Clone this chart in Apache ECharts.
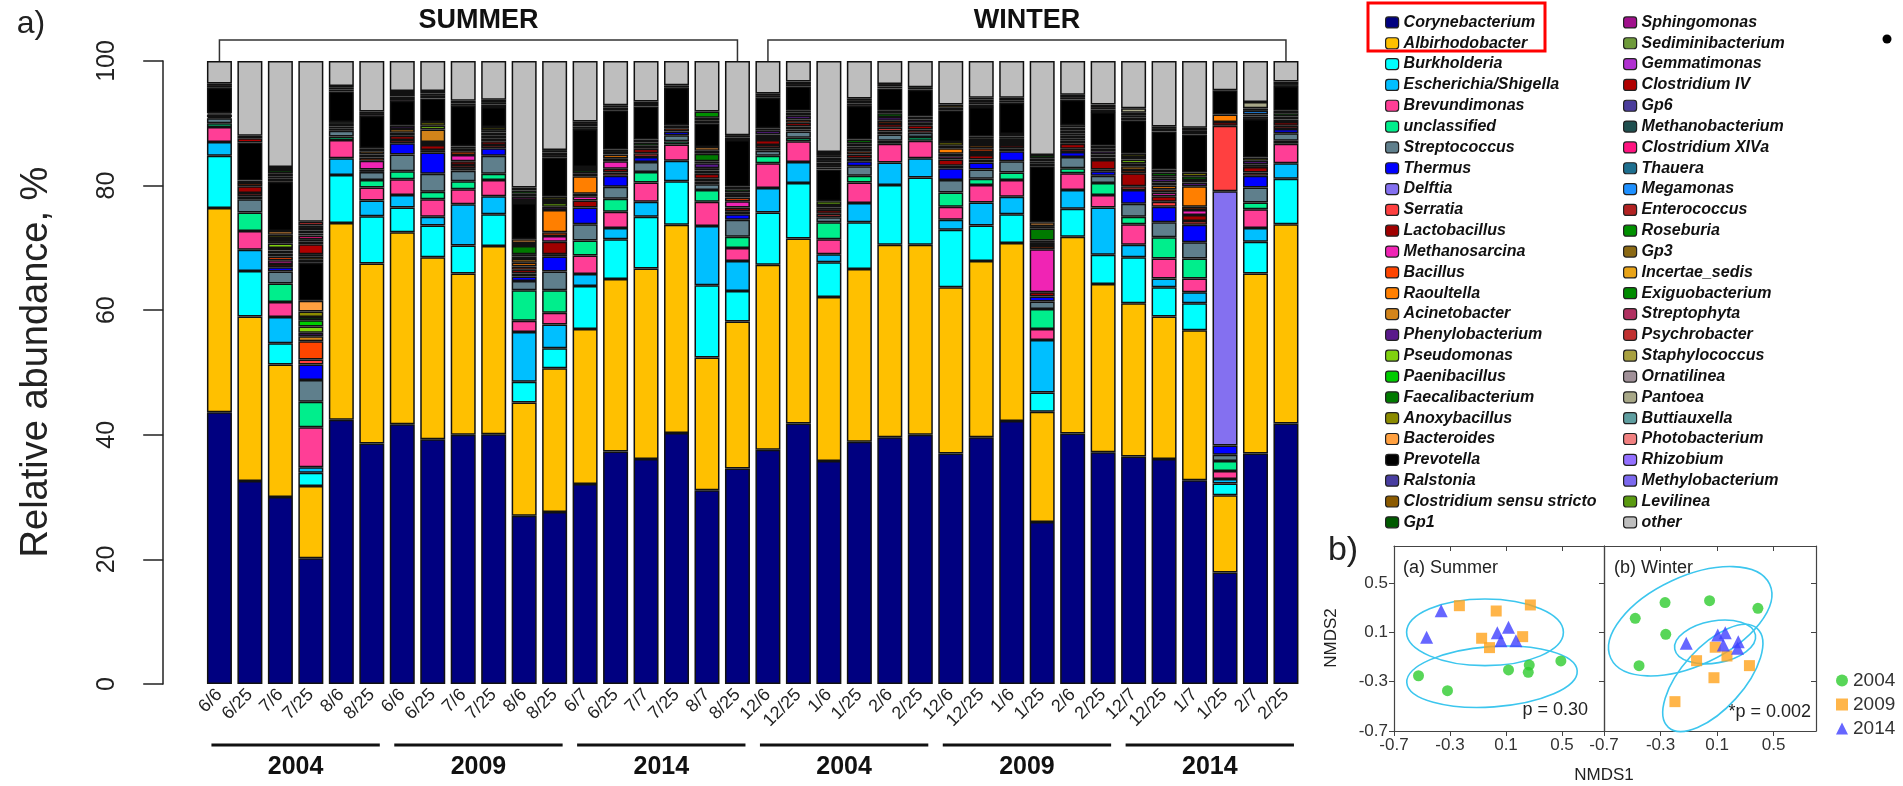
<!DOCTYPE html>
<html>
<head>
<meta charset="utf-8">
<script src="https://cdn.jsdelivr.net/npm/echarts@6/dist/echarts.min.js"></script>
<style>
  html, body { margin: 0; padding: 0; background: #fff; }
  #chart { width: 1903px; height: 786px; }
</style>
</head>
<body>
<div id="chart"></div>
<script>
// sample dates, 6 per season-year group
var sampleDates = [
  '6/6', '6/25', '7/6', '7/25', '8/6', '8/25',
  '6/6', '6/25', '7/6', '7/25', '8/6', '8/25',
  '6/7', '6/25', '7/7', '7/25', '8/7', '8/25',
  '12/6', '12/25', '1/6', '1/25', '2/6', '2/25',
  '12/6', '12/25', '1/6', '1/25', '2/6', '2/25',
  '12/7', '12/25', '1/7', '1/25', '2/7', '2/25'
];
var groupYears = ['2004', '2009', '2014', '2004', '2009', '2014'];
var seasons = ['SUMMER', 'WINTER'];

// relative abundance (%) per genus, one value per sample
var corynebacterium = [43.6, 32.6, 30.0, 20.2, 42.4, 38.6, 41.7, 39.3, 40.0, 40.1, 27.0, 27.6, 32.1, 37.3, 36.1, 40.3, 31.1, 34.6,
                       37.6, 41.8, 35.8, 38.9, 39.6, 40.0, 37.0, 39.6, 42.2, 26.0, 40.2, 37.2, 36.5, 36.1, 32.7, 17.9, 37.0, 41.8];
var albirhodobacter = [32.8, 26.4, 21.3, 11.6, 31.6, 28.9, 30.8, 29.2, 25.9, 30.2, 18.2, 23.1, 24.9, 27.7, 30.6, 33.4, 21.3, 23.6,
                       29.7, 29.7, 26.3, 27.7, 30.9, 30.5, 26.7, 28.3, 28.6, 17.7, 31.6, 27.0, 24.6, 22.9, 24.1, 12.4, 28.9, 32.0];
var burkholderia = [8.4, 7.3, 3.4, 2.1, 7.7, 7.6, 4.0, 5.1, 4.5, 5.1, 3.3, 3.2, 6.9, 6.4, 8.3, 7.0, 11.6, 4.9,
                    8.4, 8.9, 5.6, 7.5, 9.6, 10.8, 9.2, 5.7, 4.6, 3.1, 4.5, 4.7, 7.4, 4.7, 4.3, 1.9, 5.1, 7.3];
var escherichia = [2.2, 3.4, 4.2, 0.9, 2.7, 2.5, 2.0, 1.4, 6.6, 2.9, 8.0, 3.8, 1.9, 1.8, 2.4, 3.3, 9.5, 4.8,
                   3.9, 3.4, 1.3, 3.1, 3.6, 3.1, 1.6, 3.7, 2.8, 8.4, 3.0, 7.6, 2.0, 1.4, 1.8, 0.7, 2.2, 2.5];
var brevundimonas = [2.4, 3.0, 2.4, 6.4, 2.9, 2.1, 2.5, 2.8, 2.4, 2.6, 1.8, 1.9, 3.0, 2.6, 3.1, 2.6, 3.9, 2.1,
                     4.0, 3.3, 2.4, 3.3, 3.0, 2.8, 2.1, 2.8, 2.7, 1.8, 2.7, 2.0, 3.3, 3.2, 2.2, 1.3, 3.0, 3.1];
var unclassified = [0.6, 3.0, 3.0, 4.1, 0.6, 1.2, 1.3, 1.2, 1.3, 1.0, 4.9, 3.6, 2.4, 2.1, 1.7, 0.5, 1.9, 1.8,
                    1.2, 0.6, 2.7, 1.1, 0.5, 0.6, 2.3, 1.0, 1.2, 3.2, 0.8, 1.9, 1.2, 3.4, 3.2, 1.6, 1.1, 0.5];
var streptococcus = [0.8, 2.1, 1.9, 3.5, 0.9, 1.3, 2.7, 2.9, 1.7, 2.9, 1.5, 3.0, 2.6, 1.9, 1.6, 1.0, 0.9, 2.7,
                     0.8, 1.0, 0.8, 1.5, 1.0, 0.7, 2.0, 1.5, 1.8, 1.2, 1.8, 1.2, 2.1, 2.4, 2.6, 1.0, 2.4, 1.2];
var thermus = [0, 0.5, 0.7, 2.5, 0, 0.4, 1.8, 3.4, 0.4, 1.2, 0.7, 2.4, 2.7, 1.8, 0.8, 0.6, 0.4, 0.9,
               0.4, 0.3, 0, 0.8, 0.5, 0, 1.9, 1.1, 1.6, 0.8, 0.8, 0.7, 2.2, 2.5, 2.8, 1.5, 1.9, 0.7];
var delftia = [0, 0, 0, 0, 0, 0, 0, 0, 0, 0, 0, 0, 0, 0, 0, 0, 0, 0,
               0, 0, 0, 0, 0, 0, 0, 0, 0, 0, 0, 0, 0, 0, 0, 40.8, 0, 0];
var serratia = [0.2, 0.5, 0, 0.8, 0.4, 0, 0.5, 0.4, 0.5, 0.5, 0.5, 0.4, 0, 0.5, 0.6, 0, 0.5, 0.5,
                0.5, 0.5, 0.6, 0.5, 0.6, 0.5, 0.4, 0.5, 0.5, 0, 0.5, 0.3, 0.6, 0.8, 0.6, 10.5, 0.5, 0.5];
var lactobacillus = [0.4, 1.1, 0.5, 0, 0.3, 0, 0.7, 0.8, 0.6, 0.6, 0.6, 2.0, 1.1, 0.6, 0.7, 0, 0.8, 0.6,
                     0.8, 0.6, 0.6, 0.6, 0.6, 0.7, 1.0, 0.7, 0.5, 0.7, 0.8, 1.5, 2.1, 0.9, 1.0, 0.6, 0.9, 0.6];
var methanosarcina = [0.2, 0, 0.6, 0, 0.4, 1.4, 0, 0, 1.0, 0, 0, 0.9, 0.7, 1.2, 0, 0, 0, 1.0,
                      0, 0, 0, 0, 0, 0, 0.5, 0.5, 0, 6.9, 0, 0, 0, 0.6, 0.8, 0, 0, 0];
var bacillus = [0, 0.5, 0.6, 2.9, 0, 0.5, 0.5, 0.5, 0.6, 0.5, 0.5, 0.6, 0.4, 0.5, 0.5, 0.5, 0.5, 0.6,
                0.5, 0.5, 0, 0.5, 0.5, 0.4, 0.4, 0.6, 0.5, 0.5, 0.5, 0.4, 0.5, 0.5, 0.5, 0, 0.4, 0.4];
var raoultella = [0, 0, 0.5, 0, 0, 0.5, 0, 0, 0, 0, 0.6, 3.6, 2.8, 0.6, 0, 0, 0.4, 0,
                  0.4, 0, 0, 0.4, 0, 0, 0.9, 0.5, 0, 0, 0.4, 0, 0, 0.6, 3.3, 1.2, 0, 0];
var acinetobacter = [0, 0, 0.5, 0.8, 0, 0.5, 0.6, 2.0, 0, 0.4, 0.6, 0, 0, 0, 0, 0, 0, 0.4,
                     0, 0, 0.4, 0.4, 0, 0, 0.4, 0, 0, 0.5, 0.4, 0.5, 0.6, 0.5, 0, 0, 0, 0];
var phenylobacterium = [0, 0, 0.4, 0.6, 0, 0, 0.5, 0, 0.4, 0, 0.4, 0.5, 0.5, 0.4, 0, 0.5, 0.8, 0.4,
                        0.6, 0.6, 0.4, 0, 0.6, 0.5, 0, 0.5, 0.5, 0.4, 0.4, 0.5, 0.5, 0.6, 0.6, 0, 0.6, 0.5];
var pseudomonas = [0, 0, 0.7, 1.0, 0, 0, 0, 0.6, 0, 0, 0, 0.6, 0, 0, 0, 0, 0, 0,
                   0, 0, 0.6, 0, 0, 0, 0, 0, 0, 0, 0, 0, 0.6, 0, 0.4, 0, 0, 0];
var paenibacillus = [0, 0, 0.4, 1.0, 0, 0, 0, 0, 0, 0.5, 0.4, 0, 0, 0, 0, 0, 0.3, 0,
                     0, 0, 0, 0.5, 0, 0, 0, 0, 0, 0, 0.4, 0, 0.4, 0.4, 0, 0, 0, 0];
var faecalibacterium = [0, 0.4, 0.5, 0.5, 0.3, 0, 0, 0, 0.4, 0.4, 1.3, 0.5, 0.5, 0.4, 0.5, 0, 1.2, 0.5,
                        0.4, 0.5, 0, 0.6, 0.6, 0.5, 0, 0.5, 0.4, 1.9, 0.5, 0.5, 0, 0.6, 0.6, 0, 0, 0.5];
var anoxybacillus = [0, 0, 0.5, 0.9, 0, 0.5, 0, 0.6, 0, 0.5, 0.5, 0.5, 0.5, 0, 0.5, 0, 0.5, 0.4,
                     0, 0.3, 0, 0, 0.4, 0, 0.6, 0.4, 0.4, 0.4, 0.4, 0.4, 0.5, 0.5, 0.6, 0, 0.5, 0.4];
var bacteroides = [0, 0, 0.6, 1.7, 0, 0, 0, 0, 0, 0, 0.6, 0, 0, 0, 0, 0, 0.6, 0,
                   0, 0, 0, 0, 0, 0, 0, 0, 0, 0.6, 0, 0, 0, 0, 0, 0, 0, 0];
var prevotella = [4.1, 6.1, 7.9, 6.1, 4.9, 5.2, 4.0, 3.8, 6.5, 3.2, 5.8, 6.3, 6.1, 6.3, 5.3, 6.0, 3.8, 7.5,
                  4.9, 3.9, 5.1, 5.4, 3.6, 4.3, 5.1, 4.7, 5.0, 9.0, 4.1, 5.4, 5.4, 6.1, 6.1, 3.9, 6.2, 4.0];
var ralstonia = [0, 0, 0, 0.5, 0, 0, 0, 0, 0, 0, 0.5, 0, 0, 0, 0, 0, 0, 0,
                 0, 0, 0.3, 0, 0, 0, 0, 0, 0, 0, 0, 0, 0, 0, 0, 0, 0, 0];
var clostridiumSS = [0, 0, 0.5, 0.5, 0, 0, 0, 0, 0.4, 0, 0, 0, 0, 0, 0, 0, 0.5, 0,
                     0, 0, 0, 0, 0, 0, 0, 0.4, 0, 0, 0, 0, 0, 0, 0, 0, 0, 0];
var gp1 = [0.3, 0, 0, 0, 0.3, 0, 0, 0, 0, 0, 0, 0, 0.4, 0, 0, 0.4, 0, 0,
           0.3, 0, 0, 0, 0.3, 0, 0, 0, 0, 0, 0, 0, 0, 0, 0, 0, 0, 0.3];
var sphingomonas = [0, 0, 0.4, 0.4, 0, 0, 0.3, 0, 0, 0, 0.5, 0, 0.4, 0.4, 0, 0, 0, 0.4,
                    0, 0, 0.4, 0, 0, 0, 0, 0.4, 0, 0.4, 0, 0.4, 0, 0, 0.4, 0, 0, 0];
var clostridiumIV = [0.4, 0.7, 0.5, 1.6, 0.3, 0, 0.4, 0, 0.4, 0.4, 0, 0, 0.4, 0, 0, 0, 0.4, 0,
                     0.4, 0.4, 0, 0.4, 0.4, 0, 0.4, 0.4, 0, 0, 0.4, 0.4, 0.4, 0.4, 0, 0, 0.4, 0.4];
var gp6 = [0, 0, 0, 0.4, 0, 0, 0, 0, 0, 0, 0.5, 0, 0, 0, 0, 0, 0, 0,
           0, 0, 0, 0, 0, 0, 0, 0, 0, 0, 0, 0, 0, 0, 0.3, 0, 0, 0];
var methanobacterium = [0, 0, 0, 0.4, 0, 0, 0, 0, 0, 0, 0, 0, 0, 0, 0, 0, 0, 0,
                        0, 0, 0.4, 0, 0, 0, 0, 0, 0, 0, 0, 0, 0, 0, 0, 0, 0.3, 0];
var clostridiumXIVa = [0, 0, 0, 0.6, 0, 0.3, 0, 0, 0, 0, 0, 0, 0, 0, 0, 0, 0, 0,
                       0, 0, 0, 0, 0, 0, 0, 0, 0, 0, 0, 0, 0, 0, 0, 0, 0, 0];
var thauera = [0, 0, 0, 0.3, 0, 0, 0, 0, 0, 0, 0, 0, 0, 0, 0, 0, 0, 0,
               0, 0, 0, 0, 0, 0, 0, 0, 0, 0.4, 0, 0, 0, 0, 0, 0, 0, 0];
var megamonas = [0, 0, 0, 0, 0, 0, 0, 0, 0, 0, 0, 0, 0, 0, 0, 0, 0, 0,
                 0, 0, 0.4, 0, 0, 0, 0, 0, 0, 0.5, 0, 0, 0, 0, 0, 0, 0.6, 0];
var enterococcus = [0, 0, 0, 0.5, 0, 0, 0, 0, 0, 0, 0, 0.4, 0, 0, 0, 0, 0, 0,
                    0, 0, 0, 0, 0, 0, 0, 0.3, 0, 0, 0, 0, 0, 0, 0, 0, 0, 0];
var roseburia = [0, 0.4, 0.5, 0, 0.3, 0, 0, 0.4, 0, 0.4, 0.5, 0, 0, 0, 0.4, 0, 1.0, 0,
                 0, 0.4, 0.4, 0.4, 0, 0.4, 0, 0, 0.4, 0.5, 0.4, 0, 0.4, 0, 0, 0, 0.4, 0];
var gp3 = [0, 0, 0.5, 0.4, 0, 0.4, 0.4, 0.4, 0, 0.4, 0.5, 0.4, 0, 0, 0.4, 0, 0, 0.4,
           0, 0, 0.4, 0.4, 0, 0, 0.5, 0, 0.4, 0, 0, 0.4, 0.4, 0, 0.4, 0, 0, 0];
var exiguobacterium = [0, 0, 0, 0.4, 0, 0, 0, 0, 0, 0, 0, 0.4, 0, 0.4, 0, 0, 0, 0,
                       0, 0, 0, 0, 0, 0, 0, 0, 0, 0, 0, 0, 0, 0.4, 0, 0, 0, 0];
var psychrobacter = [0, 0, 0, 0.6, 0, 0, 0, 0, 0, 0, 0, 0, 0, 0, 0, 0, 0, 0,
                     0, 0, 0, 0, 0, 0, 0, 0, 0, 0, 0, 0, 0, 0, 0, 0, 0, 0];
var staphylococcus = [0, 0, 0, 0, 0, 0, 0.5, 0.4, 0, 0, 0, 0, 0, 0, 0, 0, 0, 0,
                      0, 0, 0, 0, 0, 0, 0, 0, 0, 0, 0, 0, 0, 0, 0, 0, 0, 0];
var ornatilinea = [0, 0, 0, 0, 0, 0, 0, 0, 0, 0, 0, 0, 0, 0, 0, 0, 0, 0,
                   0, 0, 0.5, 0, 0, 0, 0, 0, 0, 0, 0, 0, 0, 0, 0, 0, 0, 0];
var pantoea = [0, 0, 0, 0, 0, 0, 0, 0, 0, 0, 0, 0, 0, 0, 0, 0, 0, 0,
               0, 0, 0, 0, 0, 0, 0, 0, 0, 0, 0, 0, 0.7, 0, 0, 0, 1.0, 0];
var other = [3.6, 12.0, 17.0, 25.8, 4.0, 8.1, 4.8, 4.8, 6.4, 6.2, 20.3, 14.3, 9.7, 7.1, 6.5, 3.9, 8.1, 11.9,
             5.2, 3.3, 14.6, 6.0, 3.7, 4.2, 7.0, 5.9, 5.9, 15.1, 5.4, 7.0, 7.6, 10.5, 10.7, 4.7, 6.6, 3.3];

// legend columns, in stacking order (bottom to top)
var legendCol1 = ['Corynebacterium', 'Albirhodobacter', 'Burkholderia', 'Escherichia/Shigella', 'Brevundimonas',
  'unclassified', 'Streptococcus', 'Thermus', 'Delftia', 'Serratia', 'Lactobacillus', 'Methanosarcina', 'Bacillus',
  'Raoultella', 'Acinetobacter', 'Phenylobacterium', 'Pseudomonas', 'Paenibacillus', 'Faecalibacterium',
  'Anoxybacillus', 'Bacteroides', 'Prevotella', 'Ralstonia', 'Clostridium sensu stricto', 'Gp1'];
var legendCol2 = ['Sphingomonas', 'Sediminibacterium', 'Gemmatimonas', 'Clostridium IV', 'Gp6', 'Methanobacterium',
  'Clostridium XIVa', 'Thauera', 'Megamonas', 'Enterococcus', 'Roseburia', 'Gp3', 'Incertae_sedis', 'Exiguobacterium',
  'Streptophyta', 'Psychrobacter', 'Staphylococcus', 'Ornatilinea', 'Pantoea', 'Buttiauxella', 'Photobacterium',
  'Rhizobium', 'Methylobacterium', 'Levilinea', 'other'];
var genusColors = ['#000080', '#FFC000', '#00FFFF', '#00BFFF', '#FF3E96', '#00EE8C', '#5F7F8C', '#0000FF', '#8470F0',
  '#FF4040', '#A00000', '#F024B4', '#FF4500', '#FF7F00', '#D2841A', '#5A1A8B', '#80D010', '#00CC00', '#007A00',
  '#8B8B00', '#FFA040', '#000000', '#483DA0', '#8B5A00', '#005A00',
  '#A0108C', '#6E9A3A', '#B030D0', '#B00000', '#4B3D9B', '#1F4F4F', '#FF1480', '#1E6F8F', '#1E90FF', '#B22222',
  '#009000', '#8B6914', '#E8A317', '#008B00', '#B03060', '#C03030', '#A8A040', '#A09098', '#A8A888', '#5F9EA0',
  '#F08080', '#9370FF', '#7B68EE', '#5A9A10', '#BEBEBE'];

// NMDS ordination points [NMDS1, NMDS2]
var summer2004 = [[-0.525, -0.252], [-0.318, -0.373], [0.118, -0.205], [0.259, -0.224], [0.266, -0.165], [0.492, -0.132]];
var summer2009 = [[-0.233, 0.316], [0.03, 0.273], [0.274, 0.322], [-0.074, 0.052], [-0.018, -0.024], [0.219, 0.065]];
var summer2014 = [[-0.467, 0.06], [-0.363, 0.276], [0.038, 0.097], [0.118, 0.141], [0.064, 0.032], [0.171, 0.032]];
var winter2004 = [[-0.479, 0.214], [-0.268, 0.341], [0.047, 0.357], [0.389, 0.295], [-0.263, 0.084], [-0.452, -0.17]];
var winter2009 = [[0.087, -0.021], [-0.045, -0.13], [0.17, -0.092], [0.329, -0.17], [0.078, -0.268], [-0.198, -0.462]];
var winter2014 = [[-0.118, 0.011], [0.105, 0.079], [0.158, 0.097], [0.144, -0.003], [0.25, 0.024], [0.245, -0.03]];
// group ellipses: [centre x, centre y, half axis a, half axis b, tilt in degrees]
var summerEllipses = [[-0.05, 0.10, 0.56, 0.27, 0], [0.0, -0.26, 0.61, 0.245, 4]];
var winterEllipses = [[-0.09, 0.19, 0.62, 0.36, 25], [0.086, 0.022, 0.29, 0.17, 10], [0.07, -0.27, 0.47, 0.25, 48]];

var genusData = {
  'Corynebacterium': corynebacterium, 'Albirhodobacter': albirhodobacter, 'Burkholderia': burkholderia,
  'Escherichia/Shigella': escherichia, 'Brevundimonas': brevundimonas, 'unclassified': unclassified,
  'Streptococcus': streptococcus, 'Thermus': thermus, 'Delftia': delftia, 'Serratia': serratia,
  'Lactobacillus': lactobacillus, 'Methanosarcina': methanosarcina, 'Bacillus': bacillus, 'Raoultella': raoultella,
  'Acinetobacter': acinetobacter, 'Phenylobacterium': phenylobacterium, 'Pseudomonas': pseudomonas,
  'Paenibacillus': paenibacillus, 'Faecalibacterium': faecalibacterium, 'Anoxybacillus': anoxybacillus,
  'Bacteroides': bacteroides, 'Prevotella': prevotella, 'Ralstonia': ralstonia,
  'Clostridium sensu stricto': clostridiumSS, 'Gp1': gp1, 'Sphingomonas': sphingomonas,
  'Clostridium IV': clostridiumIV, 'Gp6': gp6, 'Methanobacterium': methanobacterium,
  'Clostridium XIVa': clostridiumXIVa, 'Thauera': thauera, 'Megamonas': megamonas, 'Enterococcus': enterococcus,
  'Roseburia': roseburia, 'Gp3': gp3, 'Exiguobacterium': exiguobacterium, 'Psychrobacter': psychrobacter,
  'Staphylococcus': staphylococcus, 'Ornatilinea': ornatilinea, 'Pantoea': pantoea, 'other': other
};

var FONT = '"Liberation Sans", Arial, sans-serif';
var chart = echarts.init(document.getElementById('chart'), null, { renderer: 'canvas' });

var sampleIds = sampleDates.map(function (d, i) { return 's' + i; });
var genusNames = legendCol1.concat(legendCol2);

var series = genusNames.map(function (name, i) {
  var vals = genusData[name] || [];
  return {
    name: name, type: 'bar', stack: 'abundance', xAxisIndex: 0, yAxisIndex: 0,
    barWidth: 25, silent: true,
    itemStyle: { color: genusColors[i], borderColor: '#111', borderWidth: 1.5 },
    data: vals.map(function (v) { return v > 0 ? v : '-'; })
  };
});

function scatter(name, data, axis, symbol, size, color) {
  return {
    name: name, type: 'scatter', xAxisIndex: axis, yAxisIndex: axis, symbol: symbol, symbolSize: size,
    itemStyle: { color: color }, data: data, silent: true, z: 5
  };
}
function ellipses(data, axis) {
  return {
    type: 'custom', xAxisIndex: axis, yAxisIndex: axis, silent: true, z: 4, data: data,
    renderItem: function (params, api) {
      var c = api.coord([api.value(0), api.value(1)]);
      var s = api.size([api.value(2), api.value(3)]);
      return {
        type: 'ellipse', x: c[0], y: c[1], rotation: api.value(4) * Math.PI / 180,
        shape: { cx: 0, cy: 0, rx: s[0], ry: s[1] },
        style: { fill: 'none', stroke: '#3CC6EE', lineWidth: 1.6 }
      };
    }
  };
}
var green = '#2ECC2E', orange = '#FFA21C', blue = '#4040FF';
series.push(ellipses(summerEllipses, 1), ellipses(winterEllipses, 3));
series.push(scatter('2004', summer2004, 1, 'circle', 11, green));
series.push(scatter('2009', summer2009, 1, 'rect', 11, orange));
series.push(scatter('2014', summer2014, 1, 'triangle', 13, blue));
series.push(scatter('2004', winter2004, 3, 'circle', 11, green));
series.push(scatter('2009', winter2009, 3, 'rect', 11, orange));
series.push(scatter('2014', winter2014, 3, 'triangle', 13, blue));

function nmdsAxis(grid, pos, showLabel, inside) {
  return {
    type: 'value', gridIndex: grid, position: pos, min: -0.7, max: 0.8, interval: 0.4,
    axisLine: { show: true, onZero: false, lineStyle: { color: '#444', width: 1.2 } },
    axisTick: { show: true, inside: inside, length: 5, lineStyle: { color: '#444' } },
    splitLine: { show: false },
    axisLabel: {
      show: showLabel, showMaxLabel: false, fontSize: 17, color: '#333', fontFamily: FONT, margin: 6,
      formatter: function (v) { return v.toFixed(1); }
    }
  };
}

var legendBase = {
  orient: 'vertical', icon: 'roundRect', itemWidth: 13, itemHeight: 11, itemGap: 0, selectedMode: false,
  itemStyle: { borderColor: '#222', borderWidth: 1.2 },
  textStyle: { fontSize: 16, fontStyle: 'italic', fontWeight: 'bold', color: '#111', fontFamily: FONT, lineHeight: 20.83 }
};

var option = {
  backgroundColor: '#fff',
  animation: false,
  grid: [
    { left: 204.2, top: 61, width: 1097, height: 623 },
    { left: 1394, top: 546, width: 210, height: 185 },
    { left: 1604, top: 546, width: 212, height: 185 }
  ],
  legend: [
    Object.assign({}, legendBase, { left: 1380, top: 7, data: legendCol1 }),
    Object.assign({}, legendBase, { left: 1618, top: 7, data: legendCol2 }),
    {
      orient: 'vertical', left: 1831, top: 666, itemWidth: 12, itemHeight: 12, itemGap: 5, selectedMode: false,
      textStyle: { fontSize: 19, color: '#333', fontFamily: FONT },
      data: [{ name: '2004', icon: 'circle' }, { name: '2009', icon: 'rect' }, { name: '2014', icon: 'triangle' }]
    }
  ],
  xAxis: [
    {
      type: 'category', gridIndex: 0, data: sampleIds,
      axisLine: { show: false }, axisTick: { show: false },
      axisLabel: {
        rotate: 45, margin: 8, fontSize: 18, color: '#222', fontFamily: FONT, interval: 0,
        formatter: function (v, i) { return sampleDates[i]; }
      }
    },
    nmdsAxis(1, 'bottom', true, false),
    nmdsAxis(1, 'top', false, true),
    nmdsAxis(2, 'bottom', true, false),
    nmdsAxis(2, 'top', false, true)
  ],
  yAxis: [
    {
      type: 'value', gridIndex: 0, min: 0, max: 100, interval: 20, offset: 41,
      axisLine: { show: true, lineStyle: { color: '#222', width: 1.5 } },
      axisTick: { show: true, length: 20, lineStyle: { color: '#222', width: 1.5 } },
      splitLine: { show: false },
      axisLabel: { rotate: 90, margin: 44, fontSize: 25, color: '#222', fontFamily: FONT }
    },
    nmdsAxis(1, 'left', true, false),
    nmdsAxis(1, 'right', false, true),
    nmdsAxis(2, 'left', false, false),
    nmdsAxis(2, 'right', false, true)
  ],
  series: series
};
chart.setOption(option);

// annotations tied to the bar axis positions
function xAt(i) { return chart.convertToPixel({ xAxisIndex: 0 }, sampleIds[i]); }
var yTop = chart.convertToPixel({ yAxisIndex: 0 }, 100);
var yBase = chart.convertToPixel({ yAxisIndex: 0 }, 0);
var graphics = [];
seasons.forEach(function (s, k) {
  var x1 = xAt(k * 18), x2 = xAt(k * 18 + 17), yb = yTop - 21;
  graphics.push({ type: 'polyline', shape: { points: [[x1, yTop], [x1, yb], [x2, yb], [x2, yTop]] },
    style: { stroke: '#333', lineWidth: 1.5, fill: 'none' } });
  graphics.push({ type: 'text', x: (x1 + x2) / 2, y: yTop - 40,
    style: { text: s, font: 'bold 27px "Liberation Sans Narrow", ' + FONT, fill: '#111', align: 'center', verticalAlign: 'middle' } });
});
groupYears.forEach(function (yr, g) {
  var x1 = xAt(g * 6) - 8, x2 = xAt(g * 6 + 5) + 8;
  graphics.push({ type: 'line', shape: { x1: x1, y1: yBase + 61, x2: x2, y2: yBase + 61 },
    style: { stroke: '#111', lineWidth: 3 } });
  graphics.push({ type: 'text', x: (x1 + x2) / 2, y: yBase + 83,
    style: { text: yr, font: 'bold 25px "Liberation Sans Narrow", ' + FONT, fill: '#111', align: 'center', verticalAlign: 'middle' } });
});
function label(text, x, y, font, align, rot) {
  return { type: 'text', x: x, y: y, rotation: rot || 0,
    style: { text: text, font: font + ' ' + FONT, fill: '#222', align: align || 'center', verticalAlign: 'middle' } };
}
graphics.push(label('a)', 31, 24, '32px'));
graphics.push(label('Relative abundance, %', 37, 362, '38px', 'center', Math.PI / 2));
graphics.push(label('b)', 1343, 551, '34px'));
graphics.push(label('(a) Summer', 1403, 568, '18px', 'left'));
graphics.push(label('(b) Winter', 1614, 568, '18px', 'left'));
graphics.push(label('p = 0.30', 1588, 710, '18px', 'right'));
graphics.push(label('*p = 0.002', 1811, 712, '18px', 'right'));
graphics.push(label('NMDS2', 1331, 638, '17px', 'center', Math.PI / 2));
graphics.push(label('NMDS1', 1604, 775, '17px'));
graphics.push({ type: 'rect', shape: { x: 1368, y: 3, width: 177, height: 48 },
  style: { fill: 'none', stroke: '#FF0000', lineWidth: 3 } });
graphics.push({ type: 'circle', shape: { cx: 1887, cy: 39, r: 4.5 }, style: { fill: '#000' } });
chart.setOption({ graphic: graphics });
</script>
</body>
</html>
